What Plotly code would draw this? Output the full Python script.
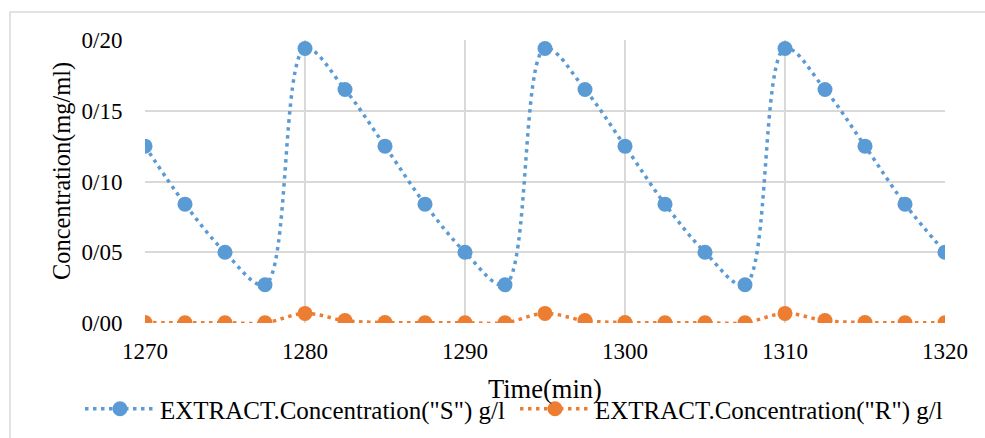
import plotly.graph_objects as go

time_min = [1270, 1272.5, 1275, 1277.5, 1280, 1282.5, 1285, 1287.5, 1290, 1292.5,
            1295, 1297.5, 1300, 1302.5, 1305, 1307.5, 1310, 1312.5, 1315, 1317.5, 1320]
conc_s = [0.125, 0.084, 0.050, 0.027, 0.194, 0.165, 0.125, 0.084, 0.050, 0.027,
          0.194, 0.165, 0.125, 0.084, 0.050, 0.027, 0.194, 0.165, 0.125, 0.084, 0.050]
conc_r = [0.0003, 0.0002, 0.0002, 0.0002, 0.0068, 0.0017, 0.0003, 0.0002, 0.0002, 0.0002,
          0.0068, 0.0017, 0.0003, 0.0002, 0.0002, 0.0002, 0.0068, 0.0017, 0.0003, 0.0002, 0.0002]
y_tickvals = [0.0, 0.05, 0.10, 0.15, 0.20]
y_ticktext = ["0/00", "0/05", "0/10", "0/15", "0/20"]
x_tickvals = [1270, 1280, 1290, 1300, 1310, 1320]
x_title = "Time(min)"
y_title = "Concentration(mg/ml)"

BLUE = "#5B9BD5"
ORANGE = "#ED7D31"
FONT = "Liberation Serif"
DOTS = "3.5px,4.5px"

fig = go.Figure()
fig.add_trace(go.Scatter(
    x=time_min, y=conc_s, mode="lines+markers",
    name='EXTRACT.Concentration("S") g/l', legend="legend",
    line=dict(color=BLUE, width=3.5, dash=DOTS, shape="spline", smoothing=1.0),
    marker=dict(color=BLUE, size=15),
))
fig.add_trace(go.Scatter(
    x=time_min, y=conc_r, mode="lines+markers",
    name='EXTRACT.Concentration("R") g/l', legend="legend2",
    line=dict(color=ORANGE, width=3.5, dash=DOTS, shape="spline", smoothing=1.0),
    marker=dict(color=ORANGE, size=15),
))

legend_common = dict(orientation="h", xref="container", yref="container", yanchor="middle",
                     xanchor="left", font=dict(family=FONT, size=25), itemwidth=70,
                     bgcolor="rgba(0,0,0,0)")

fig.update_layout(
    width=985, height=438,
    margin=dict(l=145, r=40, t=40, b=115, autoexpand=False),
    paper_bgcolor="white", plot_bgcolor="white",
    font=dict(family=FONT, size=23, color="black"),
    showlegend=True,
    legend=dict(x=80 / 985, y=1 - 409 / 438, **legend_common),
    legend2=dict(x=515 / 985, y=1 - 409 / 438, **legend_common),
    shapes=[dict(type="rect", xref="paper", yref="paper",
                 x0=(10 - 145) / 800, x1=(1010 - 145) / 800,
                 y0=(323 - 600) / 283, y1=(323 - 12) / 283,
                 line=dict(color="#D9D9D9", width=1.5), fillcolor="rgba(0,0,0,0)", layer="below")],
    annotations=[
        dict(text=x_title, xref="paper", yref="paper", x=(545 - 145) / 800, y=(323 - 389) / 283,
             xanchor="center", yanchor="middle", showarrow=False,
             font=dict(family=FONT, size=26.5, color="black")),
        dict(text=y_title, xref="paper", yref="paper", x=(62 - 145) / 800, y=(323 - 171) / 283,
             xanchor="center", yanchor="middle", showarrow=False, textangle=-90,
             font=dict(family=FONT, size=24.4, color="black")),
    ],
)
fig.update_xaxes(
    range=[1270, 1320], tickvals=x_tickvals, showgrid=True, gridcolor="#D9D9D9", gridwidth=1.5,
    zeroline=False, showline=False, ticks="outside", ticklen=7, tickcolor="rgba(0,0,0,0)",
    tickfont=dict(family=FONT, size=23),
)
fig.update_yaxes(
    range=[0, 0.20], tickvals=y_tickvals, ticktext=y_ticktext, showgrid=True,
    gridcolor="#D9D9D9", gridwidth=1.5, zeroline=False, showline=False,
    ticks="outside", ticklen=17, tickcolor="rgba(0,0,0,0)",
    tickfont=dict(family=FONT, size=23),
)

fig.write_html("out.html")
